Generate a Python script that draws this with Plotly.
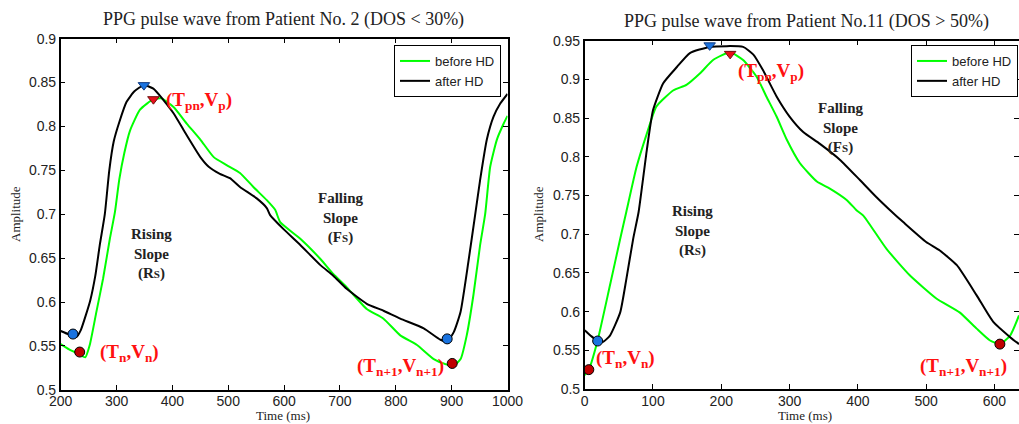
import plotly.graph_objects as go

# ---------------- data: left panel (Patient No. 2) ----------------
left_after_t = [200, 215, 228, 236, 245, 253, 262, 270, 279, 287, 295, 305, 318, 332, 349, 366, 384, 402, 420,
                438, 450, 465, 485, 503, 521, 551, 569, 575, 599, 629, 665, 688, 712, 748, 778, 808, 850,
                880, 892, 904, 916, 930, 942, 951, 963, 975, 987, 1000]
left_after_v = [0.567, 0.563, 0.560, 0.568, 0.585, 0.602, 0.630, 0.665, 0.700, 0.750, 0.783, 0.805, 0.828,
                0.840, 0.847, 0.843, 0.830, 0.815, 0.796, 0.777, 0.765, 0.754, 0.746, 0.741, 0.731, 0.718,
                0.707, 0.699, 0.683, 0.665, 0.642, 0.630, 0.615, 0.598, 0.590, 0.581, 0.570, 0.557, 0.555,
                0.566, 0.589, 0.646, 0.699, 0.739, 0.785, 0.811, 0.826, 0.837]

left_before_t = [200, 215, 234, 244, 252, 264, 276, 288, 297, 305, 314, 324, 342, 366, 380, 402, 426, 450, 474,
                 497, 521, 545, 569, 584, 593, 629, 665, 688, 712, 748, 778, 808, 838, 868, 890, 903, 916,
                 927, 939, 951, 960, 969, 981, 993, 1000]
left_before_v = [0.552, 0.546, 0.540, 0.537, 0.551, 0.589, 0.627, 0.672, 0.702, 0.740, 0.770, 0.795, 0.819,
                 0.831, 0.832, 0.822, 0.803, 0.785, 0.765, 0.756, 0.747, 0.731, 0.716, 0.705, 0.691, 0.672,
                 0.649, 0.632, 0.617, 0.592, 0.581, 0.562, 0.551, 0.535, 0.529, 0.527, 0.535, 0.562, 0.608,
                 0.665, 0.700, 0.754, 0.785, 0.803, 0.812]

left_blue_circ_t = [222, 892]
left_blue_circ_v = [0.5635, 0.558]
left_red_circ_t = [234, 901]
left_red_circ_v = [0.543, 0.530]
left_blue_tri_t = [349]
left_blue_tri_v = [0.847]
left_red_tri_t = [366]
left_red_tri_v = [0.831]

# ---------------- data: right panel (Patient No. 11) ----------------
right_after_t = [0, 10, 19, 27, 37, 52, 61, 71, 79, 91, 100, 115, 135, 154, 183, 232, 247, 261, 281, 300,
                 320, 344, 374, 403, 427, 452, 466, 500, 520, 545, 574, 598, 623, 636]
right_after_v = [0.576, 0.568, 0.562, 0.561, 0.569, 0.599, 0.642, 0.694, 0.729, 0.809, 0.860, 0.895, 0.916,
                 0.934, 0.942, 0.942, 0.932, 0.912, 0.878, 0.852, 0.832, 0.817, 0.796, 0.770, 0.748, 0.727,
                 0.716, 0.690, 0.679, 0.660, 0.621, 0.587, 0.567, 0.558]

right_before_t = [0, 6, 19, 37, 52, 61, 76, 91, 105, 130, 149, 169, 188, 213, 232, 252, 266, 281, 296, 315,
                  340, 359, 384, 398, 408, 442, 476, 515, 549, 574, 593, 608, 623, 636]
right_before_v = [0.518, 0.525, 0.563, 0.634, 0.694, 0.729, 0.787, 0.830, 0.865, 0.886, 0.893, 0.908, 0.925,
                  0.935, 0.925, 0.903, 0.878, 0.852, 0.822, 0.792, 0.768, 0.759, 0.744, 0.731, 0.724, 0.681,
                  0.647, 0.617, 0.599, 0.578, 0.563, 0.558, 0.569, 0.595]

right_blue_circ_t = [19]
right_blue_circ_v = [0.562]
right_red_circ_t = [6, 608]
right_red_circ_v = [0.525, 0.558]
right_blue_tri_t = [183]
right_blue_tri_v = [0.944]
right_red_tri_t = [213]
right_red_tri_v = [0.933]

# ---------------- axes ticks ----------------
left_xticks = [200, 300, 400, 500, 600, 700, 800, 900, 1000]
right_xticks = [0, 100, 200, 300, 400, 500, 600]
left_yticks = [0.5, 0.55, 0.6, 0.65, 0.7, 0.75, 0.8, 0.85, 0.9]
left_ytext = ["0.5", "0.55", "0.6", "0.65", "0.7", "0.75", "0.8", "0.85", "0.9"]
right_yticks = [0.5, 0.55, 0.6, 0.65, 0.7, 0.75, 0.8, 0.85, 0.9, 0.95]
right_ytext = ["0.5", "0.55", "0.6", "0.65", "0.7", "0.75", "0.8", "0.85", "0.9", "0.95"]

titles = ["PPG pulse wave from Patient No. 2 (DOS &lt; 30%)", "PPG pulse wave from Patient No.11 (DOS &gt; 50%)"]
series_names = ["before HD", "after HD"]

GREEN = "#00FF00"
BLACK = "#000000"
BLUE = "#1A73E0"
RED_DOT = "#C00000"
RED_TRI = "#E8101A"
SERIF = "Liberation Serif, Times New Roman, serif"
SANS = "Liberation Sans, Arial, sans-serif"

fig = go.Figure()

def add_panel(xa, ya, bt, bv, at, av, bct, bcv, rct, rcv, btt, btv, rtt, rtv, legend):
    fig.add_trace(go.Scatter(x=bt, y=bv, mode="lines", name=series_names[0], xaxis=xa, yaxis=ya,
                             line=dict(color=GREEN, width=2, shape="spline", smoothing=0.5), legend=legend))
    fig.add_trace(go.Scatter(x=at, y=av, mode="lines", name=series_names[1], xaxis=xa, yaxis=ya,
                             line=dict(color=BLACK, width=2, shape="spline", smoothing=0.5), legend=legend))
    fig.add_trace(go.Scatter(x=bct, y=bcv, mode="markers", showlegend=False, xaxis=xa, yaxis=ya,
                             marker=dict(symbol="circle", size=10, color=BLUE, line=dict(color="#000", width=1))))
    fig.add_trace(go.Scatter(x=rct, y=rcv, mode="markers", showlegend=False, xaxis=xa, yaxis=ya,
                             marker=dict(symbol="circle", size=10, color=RED_DOT, line=dict(color="#000", width=1))))
    fig.add_trace(go.Scatter(x=btt, y=btv, mode="markers", showlegend=False, xaxis=xa, yaxis=ya,
                             marker=dict(symbol="triangle-down", size=10, color=BLUE, line=dict(color="#103a80", width=1))))
    fig.add_trace(go.Scatter(x=rtt, y=rtv, mode="markers", showlegend=False, xaxis=xa, yaxis=ya,
                             marker=dict(symbol="triangle-down", size=10, color=RED_TRI, line=dict(color="#701010", width=1))))

add_panel("x", "y", left_before_t, left_before_v, left_after_t, left_after_v,
          left_blue_circ_t, left_blue_circ_v, left_red_circ_t, left_red_circ_v,
          left_blue_tri_t, left_blue_tri_v, left_red_tri_t, left_red_tri_v, "legend")
add_panel("x2", "y2", right_before_t, right_before_v, right_after_t, right_after_v,
          right_blue_circ_t, right_blue_circ_v, right_red_circ_t, right_red_circ_v,
          right_blue_tri_t, right_blue_tri_v, right_red_tri_t, right_red_tri_v, "legend2")

W, H = 1019, 424

def axis_common():
    return dict(showline=True, linecolor="black", linewidth=1.5, mirror="ticks", ticks="inside",
                ticklen=5, tickcolor="black", tickwidth=1, showgrid=False, zeroline=False, automargin=False,
                tickfont=dict(family=SANS, size=14, color="#222"))

xl = axis_common(); xl.update(domain=[60.7 / W, 507.5 / W], range=[200, 1000], tickvals=left_xticks, anchor="y",
                              ticklabelstandoff=-2)
yl = axis_common(); yl.update(domain=[1 - 389.8 / H, 1 - 38.6 / H], range=[0.5, 0.9], tickvals=left_yticks,
                              ticktext=left_ytext, anchor="x")
xr = axis_common(); xr.update(domain=[584.7 / W, 1.0], range=[0, 636], tickvals=right_xticks, anchor="y2",
                              ticklabelstandoff=-2)
yr = axis_common(); yr.update(domain=[1 - 389 / H, 1 - 40.7 / H], range=[0.5, 0.95], tickvals=right_yticks,
                              ticktext=right_ytext, anchor="x2")

ann = []
# titles
ann.append(dict(text=titles[0], x=283 / W, y=1 - 20 / H, xref="paper", yref="paper", showarrow=False,
                font=dict(family=SERIF, size=18, color="#222"), xanchor="center", yanchor="middle"))
ann.append(dict(text=titles[1], x=806 / W, y=1 - 21 / H, xref="paper", yref="paper", showarrow=False,
                font=dict(family=SERIF, size=18, color="#222"), xanchor="center", yanchor="middle"))
# axis titles
for xc in (283, 805):
    ann.append(dict(text="Time (ms)", x=xc / W, y=0, xref="paper", yref="paper", showarrow=False, borderpad=0,
                    font=dict(family=SERIF, size=13, color="#222"), xanchor="center", yanchor="bottom"))
for xc in (15, 538):
    ann.append(dict(text="Amplitude", x=xc / W, y=1 - 214 / H, xref="paper", yref="paper", showarrow=False,
                    textangle=-90, font=dict(family=SERIF, size=13, color="#222"), xanchor="center", yanchor="middle"))

RED_TXT = "#FF1010"
red_font = dict(family=SERIF, size=19, color=RED_TXT)
blk_font = dict(family=SERIF, size=15, color="#222")
pk = "<b>(T<sub>pn</sub>,V<sub>p</sub>)</b>"
vn = "<b>(T<sub>n</sub>,V<sub>n</sub>)</b>"
vn1 = "<b>(T<sub>n+1</sub>,V<sub>n+1</sub>)</b>"
rs = "<b>Rising<br>Slope<br>(R<span style='font-size:11px'>S</span>)</b>"
fs = "<b>Falling<br>Slope<br>(F<span style='font-size:11px'>S</span>)</b>"

# left panel labels
ann += [
    dict(text=pk, x=385, y=0.829, xref="x", yref="y", xanchor="left", yanchor="middle", showarrow=False, font=red_font),
    dict(text=vn, x=267, y=0.542, xref="x", yref="y", xanchor="left", yanchor="middle", showarrow=False, font=red_font),
    dict(text=vn1, x=889, y=0.526, xref="x", yref="y", xanchor="right", yanchor="middle", showarrow=False, font=red_font),
    dict(text=rs, x=363, y=0.655, xref="x", yref="y", xanchor="center", yanchor="middle", showarrow=False, font=blk_font),
    dict(text=fs, x=702, y=0.696, xref="x", yref="y", xanchor="center", yanchor="middle", showarrow=False, font=blk_font),
]
# right panel labels
ann += [
    dict(text=pk, x=221, y=0.910, xref="x2", yref="y2", xanchor="left", yanchor="middle", showarrow=False, font=red_font),
    dict(text=vn, x=14, y=0.539, xref="x2", yref="y2", xanchor="left", yanchor="middle", showarrow=False, font=red_font),
    dict(text=vn1, x=622, y=0.528, xref="x2", yref="y2", xanchor="right", yanchor="middle", showarrow=False, font=red_font),
    dict(text=rs, x=158, y=0.704, xref="x2", yref="y2", xanchor="center", yanchor="middle", showarrow=False, font=blk_font),
    dict(text=fs, x=376, y=0.837, xref="x2", yref="y2", xanchor="center", yanchor="middle", showarrow=False, font=blk_font),
]

legend_style = dict(bgcolor="white", bordercolor="black", borderwidth=1, font=dict(family=SANS, size=13, color="#222"),
                    xanchor="right", yanchor="top", tracegroupgap=0, itemwidth=30)

fig.update_layout(
    template="none",
    width=W, height=H, margin=dict(l=0, r=0, t=0, b=0, autoexpand=False),
    paper_bgcolor="white", plot_bgcolor="white",
    xaxis=xl, yaxis=yl, xaxis2=xr, yaxis2=yr,
    annotations=ann,
    legend=dict(x=501 / W, y=1 - 45 / H, **legend_style),
    legend2=dict(x=1018 / W, y=1 - 45 / H, **legend_style),
    showlegend=True,
)

fig.write_html("out.html", config={"displayModeBar": False},
               post_script="document.body.style.margin='0px';document.body.style.padding='0px';document.body.style.overflow='hidden';")
